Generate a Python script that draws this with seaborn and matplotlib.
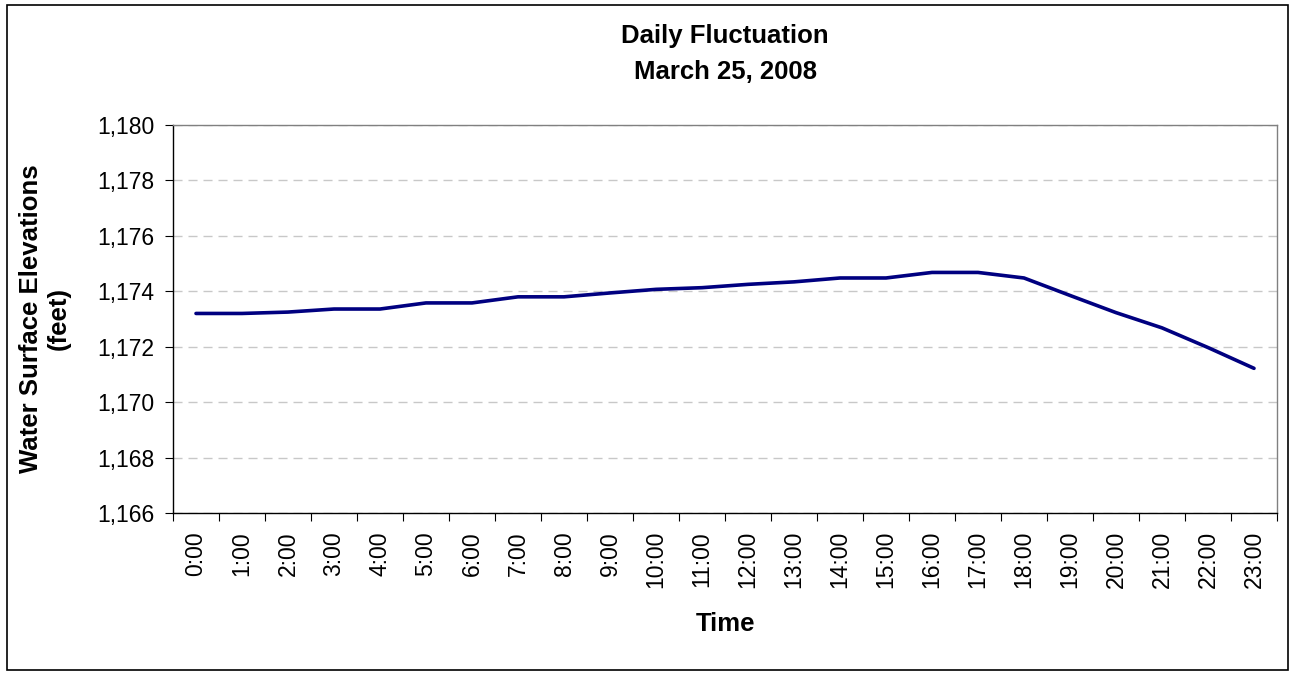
import numpy as np
import pandas as pd
import seaborn as sns
import matplotlib.pyplot as plt
from matplotlib.patches import Rectangle
from matplotlib.ticker import FuncFormatter, FixedLocator

# ------------------- DATA -------------------

hours = [f"{h}:00" for h in range(24)]
elevation = [1173.20, 1173.20, 1173.25, 1173.36, 1173.36, 1173.58, 1173.58,
             1173.80, 1173.80, 1173.94, 1174.07, 1174.13, 1174.25, 1174.34,
             1174.48, 1174.48, 1174.68, 1174.68, 1174.48, 1173.85, 1173.23,
             1172.68, 1171.97, 1171.22]
y_ticks = [1166, 1168, 1170, 1172, 1174, 1176, 1178, 1180]

df = pd.DataFrame({"Time": hours, "Elevation": elevation})

# ------------------- PLOT -------------------

sns.set_theme(style="white")
plt.rcParams['font.family'] = ['Liberation Sans', 'DejaVu Sans']
plt.rcParams['text.color'] = 'black'
plt.rcParams['axes.labelcolor'] = 'black'
plt.rcParams['xtick.color'] = 'black'
plt.rcParams['ytick.color'] = 'black'

fig = plt.figure(figsize=(12.93, 6.75), dpi=100)
ax = fig.add_axes([173 / 1293, 1 - 513 / 675, (1277 - 173) / 1293, (513 - 125) / 675])

sns.lineplot(data=df, x="Time", y="Elevation", sort=False, color="#000080",
             linewidth=2.6, ax=ax)

ax.set_xlim(-0.5, len(hours) - 0.5)
ax.set_ylim(1166, 1180)
ax.set_yticks(y_ticks)
ax.yaxis.set_major_formatter(FuncFormatter(lambda v, p: f"{v:,.0f}"))
ax.grid(axis="y", color="#c8c8c8", linestyle=(0, (6.5, 4.3)), linewidth=1)

# Excel style: ticks between categories, labels centred
ax.set_xticks(range(len(hours)))
ax.set_xticklabels(hours, rotation=90, fontsize=16.5)
ax.xaxis.set_minor_locator(FixedLocator(np.arange(-0.5, len(hours), 1)))
ax.tick_params(axis="x", which="major", length=0, pad=13)
ax.tick_params(axis="x", which="minor", length=5.5, color="black", width=0.8, direction="out")
ax.tick_params(axis="y", length=5.5, color="black", width=0.8, direction="out", labelsize=16.5, pad=8)
ax.tick_params(bottom=True, left=True, which="both")

for side in ["top", "right"]:
    ax.spines[side].set_color("#808080")
for side in ["left", "bottom"]:
    ax.spines[side].set_color("black")
for s in ax.spines.values():
    s.set_linewidth(1)

ax.set_xlabel("Time", fontsize=18.5, fontweight="bold", labelpad=17)
ax.set_ylabel("Water Surface Elevations\n(feet)", fontsize=18.5, fontweight="bold", labelpad=19,
              linespacing=1.2)
ax.set_title("Daily Fluctuation\nMarch 25, 2008", fontsize=18.5, fontweight="bold", pad=33,
             linespacing=1.65)

# chart border
fig.patches.append(Rectangle((7 / 1293, 5 / 675), 1281 / 1293, 665 / 675, transform=fig.transFigure,
                             fill=False, edgecolor="black", linewidth=1.2))

fig.savefig("out.png", dpi=100)
